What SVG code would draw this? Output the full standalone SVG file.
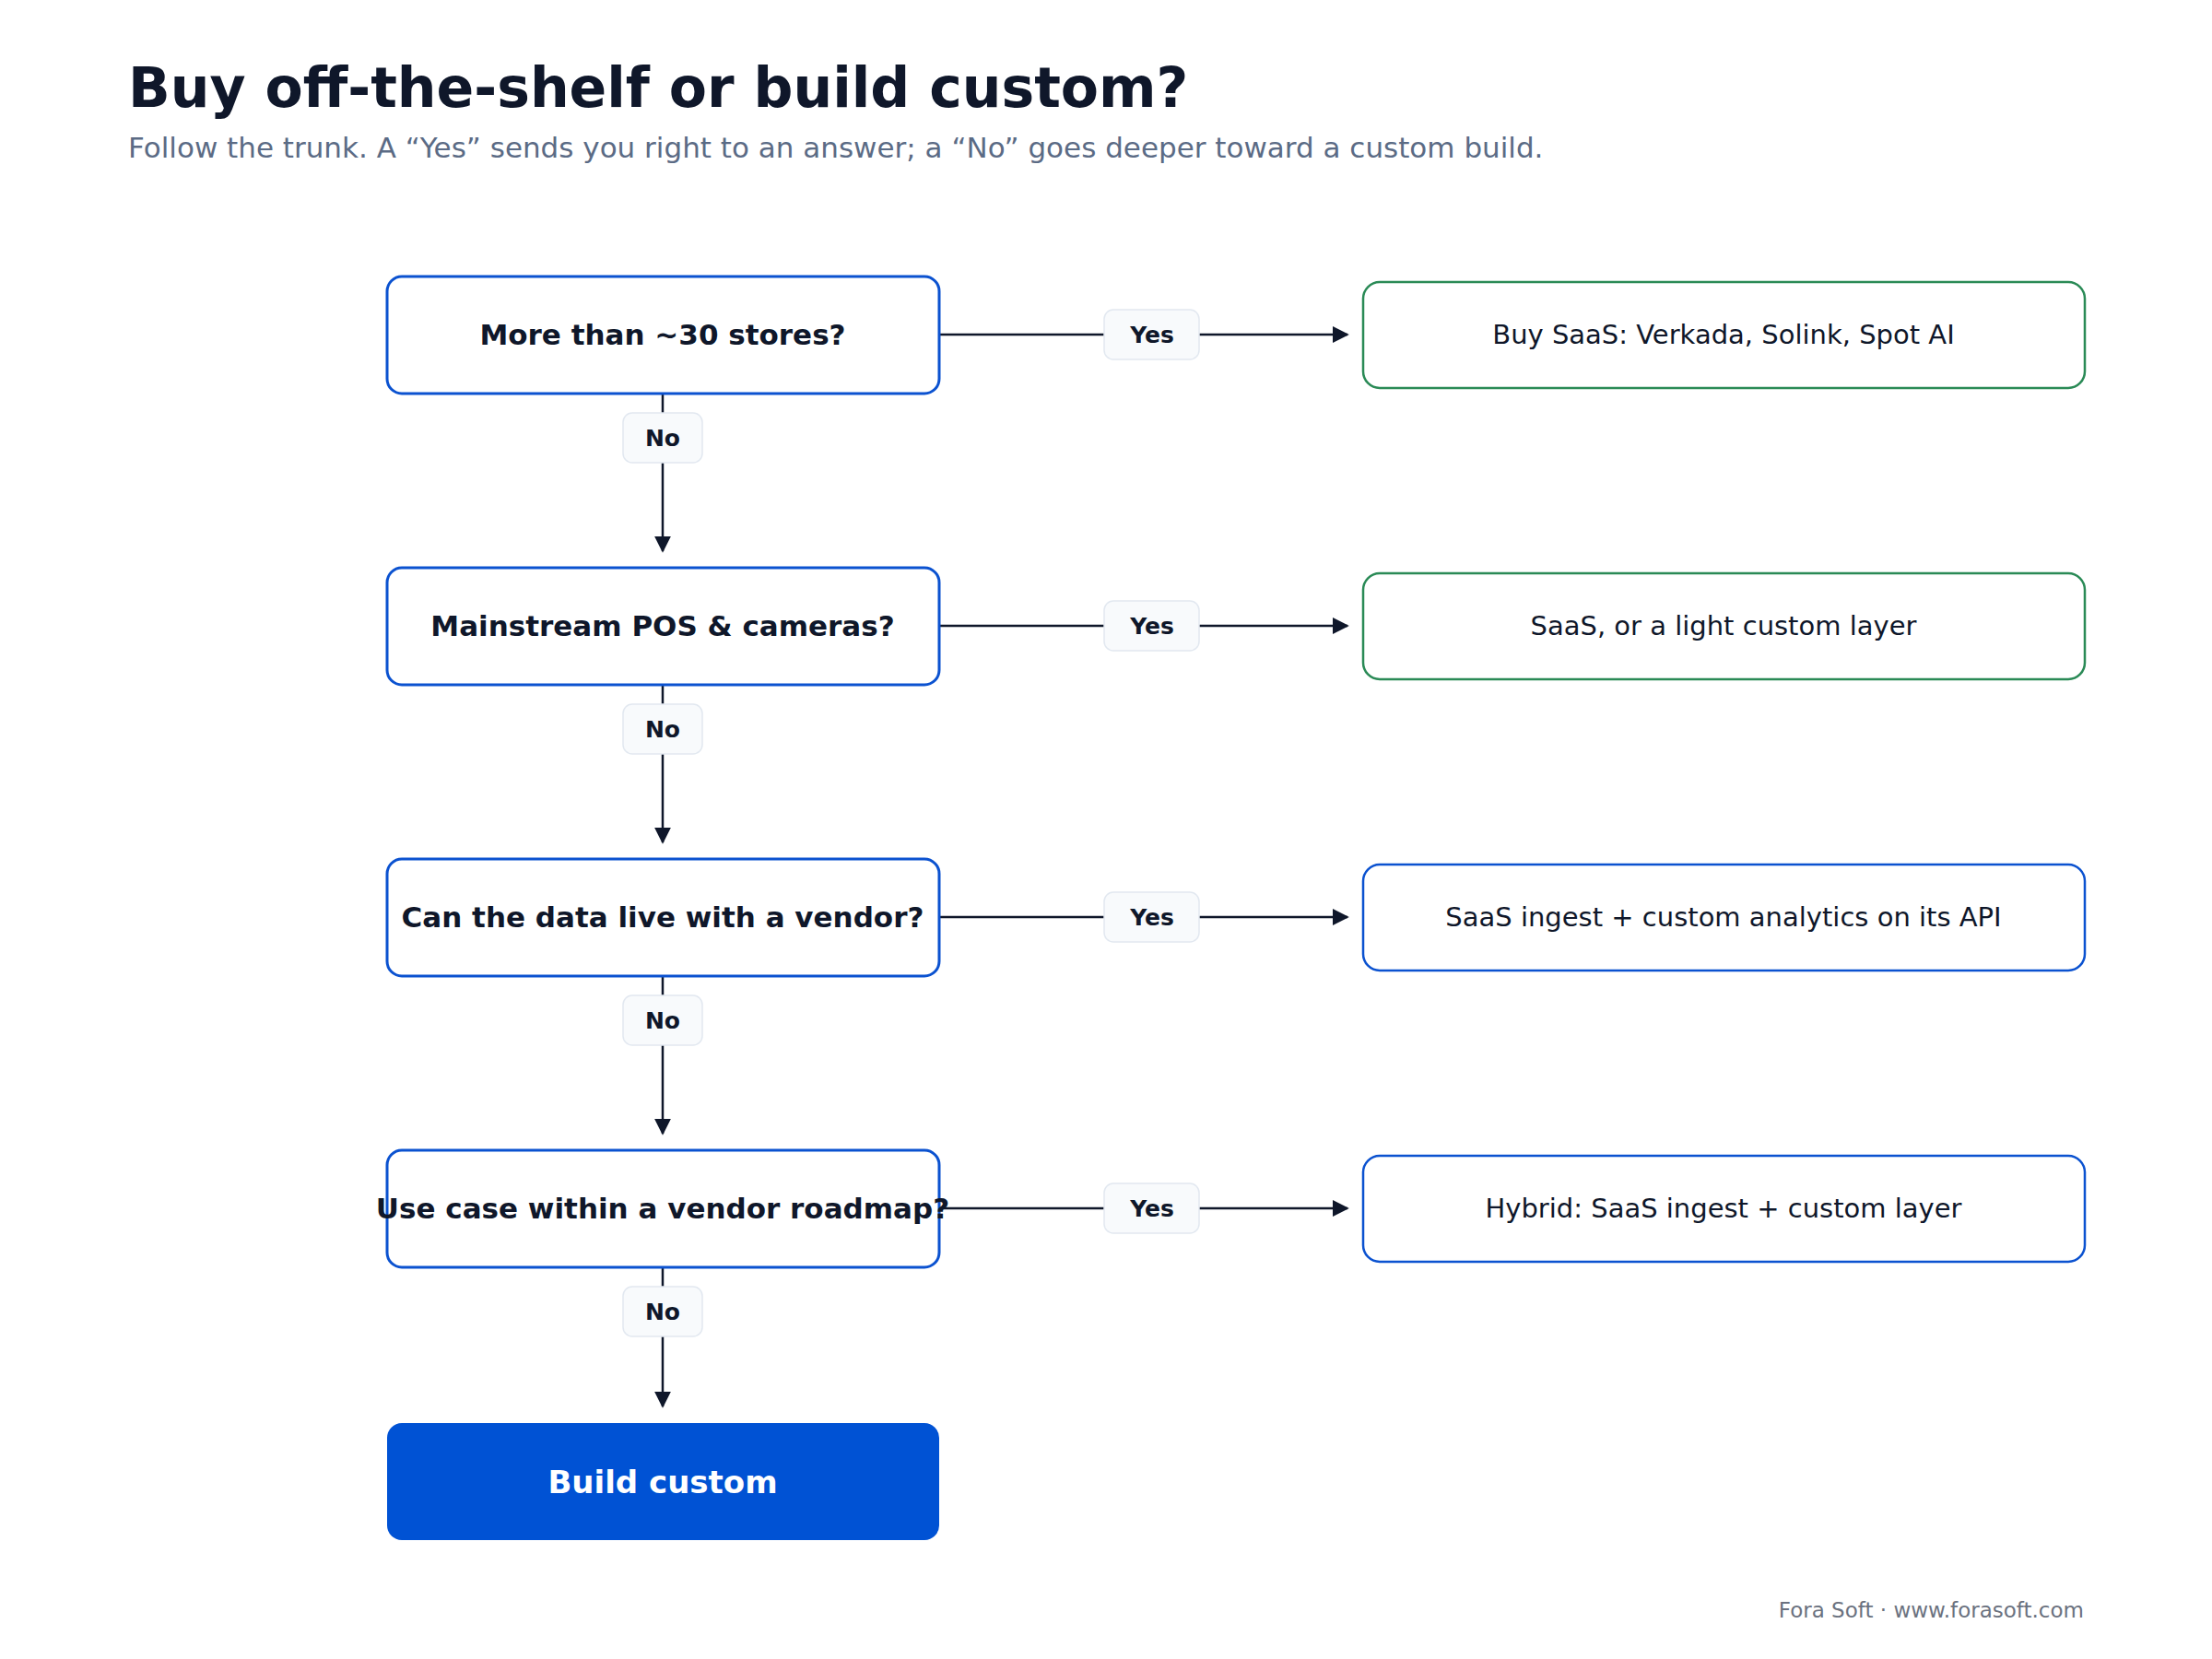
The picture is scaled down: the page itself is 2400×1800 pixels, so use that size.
<svg xmlns="http://www.w3.org/2000/svg" width="2400" height="1800" viewBox="0 0 2400 1800">
<style>
text{font-family:"DejaVu Sans","Liberation Sans",sans-serif}
.q{fill:#fff;stroke:#0B52D0;stroke-width:3}
.qt{font-size:31px;font-weight:bold;fill:#0F172A;text-anchor:middle}
.ag{fill:#fff;stroke:#2A8A56;stroke-width:2.5}
.ab{fill:#fff;stroke:#0B52D0;stroke-width:2.5}
.at{font-size:29px;fill:#0F172A;text-anchor:middle}
.lb{fill:#F8FAFC;stroke:#E2E8F0;stroke-width:1.5}
.lt{font-size:25px;font-weight:bold;fill:#0F172A;text-anchor:middle}
.e{stroke:#0F172A;stroke-width:2.5;fill:none}
</style>
<defs><marker id="a" viewBox="0 0 10 10" refX="9" refY="5" markerWidth="18" markerHeight="18" markerUnits="userSpaceOnUse" orient="auto"><path d="M0,0L10,5L0,10z" fill="#0F172A"/></marker></defs>
<rect width="2400" height="1800" fill="#fff"/>
<text x="139" y="116" font-size="60" font-weight="bold" fill="#0F172A">Buy off-the-shelf or build custom?</text>
<text x="139" y="171" font-size="31" fill="#5B6B85">Follow the trunk. A “Yes” sends you right to an answer; a “No” goes deeper toward a custom build.</text>
<g id="connectors">
<path class="e" marker-end="url(#a)" d="M1019 363H1462"/><path class="e" marker-end="url(#a)" d="M719 427V598"/>
<path class="e" marker-end="url(#a)" d="M1019 679H1462"/><path class="e" marker-end="url(#a)" d="M719 743V914"/>
<path class="e" marker-end="url(#a)" d="M1019 995H1462"/><path class="e" marker-end="url(#a)" d="M719 1059V1230"/>
<path class="e" marker-end="url(#a)" d="M1019 1311H1462"/><path class="e" marker-end="url(#a)" d="M719 1375V1526"/>
<rect class="lb" x="1198" y="336" width="103" height="54" rx="10"/><text class="lt" x="1250" y="372">Yes</text>
<rect class="lb" x="1198" y="652" width="103" height="54" rx="10"/><text class="lt" x="1250" y="688">Yes</text>
<rect class="lb" x="1198" y="968" width="103" height="54" rx="10"/><text class="lt" x="1250" y="1004">Yes</text>
<rect class="lb" x="1198" y="1284" width="103" height="54" rx="10"/><text class="lt" x="1250" y="1320">Yes</text>
<rect class="lb" x="676" y="448" width="86" height="54" rx="10"/><text class="lt" x="719" y="484">No</text>
<rect class="lb" x="676" y="764" width="86" height="54" rx="10"/><text class="lt" x="719" y="800">No</text>
<rect class="lb" x="676" y="1080" width="86" height="54" rx="10"/><text class="lt" x="719" y="1116">No</text>
<rect class="lb" x="676" y="1396" width="86" height="54" rx="10"/><text class="lt" x="719" y="1432">No</text>
</g>
<g id="q1"><rect class="q" x="420" y="300" width="599" height="127" rx="16"/><text class="qt" x="719" y="374">More than ~30 stores?</text></g>
<g id="q2"><rect class="q" x="420" y="616" width="599" height="127" rx="16"/><text class="qt" x="719" y="690">Mainstream POS &amp; cameras?</text></g>
<g id="q3"><rect class="q" x="420" y="932" width="599" height="127" rx="16"/><text class="qt" x="719" y="1006">Can the data live with a vendor?</text></g>
<g id="q4"><rect class="q" x="420" y="1248" width="599" height="127" rx="16"/><text class="qt" x="719" y="1322">Use case within a vendor roadmap?</text></g>
<g id="build"><rect x="420" y="1544" width="599" height="127" rx="16" fill="#0052D4"/><text x="719" y="1620" font-size="34" font-weight="bold" fill="#fff" text-anchor="middle">Build custom</text></g>
<g id="a1"><rect class="ag" x="1479" y="306" width="783" height="115" rx="18"/><text class="at" x="1870" y="373">Buy SaaS: Verkada, Solink, Spot AI</text></g>
<g id="a2"><rect class="ag" x="1479" y="622" width="783" height="115" rx="18"/><text class="at" x="1870" y="689">SaaS, or a light custom layer</text></g>
<g id="a3"><rect class="ab" x="1479" y="938" width="783" height="115" rx="18"/><text class="at" x="1870" y="1005">SaaS ingest + custom analytics on its API</text></g>
<g id="a4"><rect class="ab" x="1479" y="1254" width="783" height="115" rx="18"/><text class="at" x="1870" y="1321">Hybrid: SaaS ingest + custom layer</text></g>
<text x="2261" y="1755" font-size="23" fill="#6B7280" text-anchor="end">Fora Soft · www.forasoft.com</text>
</svg>
